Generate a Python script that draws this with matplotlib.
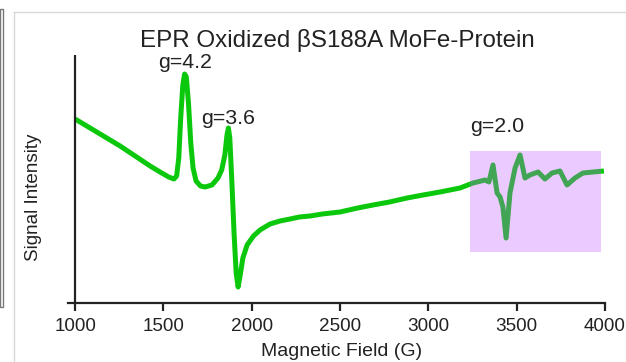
import matplotlib
matplotlib.use('Agg')
import matplotlib.pyplot as plt
from matplotlib.patches import Rectangle
from matplotlib.lines import Line2D

# Magnetic field (G) and signal intensity (arbitrary units)
field = [1000, 1085, 1170, 1255, 1340, 1425, 1481, 1530, 1560, 1575,
         1587, 1598, 1610, 1620, 1630, 1642, 1655, 1668, 1685, 1710,
         1736, 1775, 1809, 1830, 1848, 1860, 1868, 1876, 1888, 1900,
         1912, 1923, 1935, 1950, 1974, 2010, 2047, 2104, 2160, 2217,
         2270, 2330, 2400, 2500, 2600, 2687, 2780, 2879, 2970, 3066,
         3179, 3253, 3321, 3343, 3366, 3389, 3406, 3422, 3440, 3462,
         3491, 3519, 3547, 3575, 3621, 3660, 3700, 3745, 3785, 3830,
         3875, 3932, 3994]
signal = [184, 175, 166, 157, 147, 137, 131, 126, 124, 127,
          145, 185, 218, 229, 226, 200, 160, 135, 122, 117,
          116, 118, 125, 133, 148, 168, 175, 165, 120, 70,
          30, 16, 28, 45, 58, 67, 73, 79, 82, 84,
          86, 87, 89, 91, 95, 98, 101, 105, 108, 111,
          115, 120, 123, 121, 138, 110, 106, 96, 65, 110,
          135, 148, 125, 128, 131, 124, 130, 132, 118, 125,
          130, 131, 132]

xticks = [1000, 1500, 2000, 2500, 3000, 3500, 4000]
peak_labels = ['g=4.2', 'g=3.6', 'g=2.0']
peak_pos = [(1623, 240), (1866, 184), (3389, 176)]

plt.rcParams['font.family'] = ['Liberation Sans', 'DejaVu Sans']
dark = '#222222'

fig = plt.figure(figsize=(6.26, 3.62), dpi=100)
ax = fig.add_axes([68 / 626, 1 - 303 / 362, 537 / 626, 248 / 362])

ax.plot(field, signal, color='#0cc80c', lw=3.6, solid_capstyle='butt',
        solid_joinstyle='round', zorder=2)
ax.add_patch(Rectangle((3236, 51), 741, 101, facecolor='#c055ff',
                       alpha=0.3, edgecolor='none', zorder=3))
ax.axvline(1000, color=dark, lw=1.6, zorder=4)

ax.set_xlim(960, 4000)
ax.set_ylim(0, 248)
for s in ['top', 'right', 'left']:
    ax.spines[s].set_visible(False)
ax.spines['bottom'].set_color(dark)
ax.spines['bottom'].set_linewidth(1.6)
ax.set_yticks([])
ax.set_xticks(xticks)
ax.tick_params(axis='x', direction='out', length=5.5, width=1.6,
               color=dark, labelsize=13.6, labelcolor=dark, pad=5)

for lab, (x, y) in zip(peak_labels, peak_pos):
    ax.text(x, y, lab, ha='center', va='center', fontsize=15.4, color=dark)

fig.text(337 / 626, 1 - 40 / 362, 'EPR Oxidized \u03b2S188A MoFe-Protein',
         ha='center', va='center', fontsize=17.4, color=dark)
fig.text(342 / 626, 1 - 352 / 362, 'Magnetic Field (G)',
         ha='center', va='center', fontsize=14, color=dark)
fig.text(33 / 626, 1 - 197 / 362, 'Signal Intensity', rotation=90,
         ha='center', va='center', fontsize=13.6, color=dark)

# slide frame around the chart
fig.add_artist(Line2D([14 / 626, 14 / 626], [0, 1 - 12 / 362],
                      transform=fig.transFigure, color='#d8d8d8', lw=1))
fig.add_artist(Line2D([14 / 626, 1], [1 - 12 / 362, 1 - 12 / 362],
                      transform=fig.transFigure, color='#d8d8d8', lw=1))
fig.add_artist(Rectangle((0, 1 - 307 / 362), 3 / 626, 298 / 362,
                         transform=fig.transFigure, facecolor='white',
                         edgecolor='#777777', lw=1))

fig.savefig('out.png', dpi=100)
